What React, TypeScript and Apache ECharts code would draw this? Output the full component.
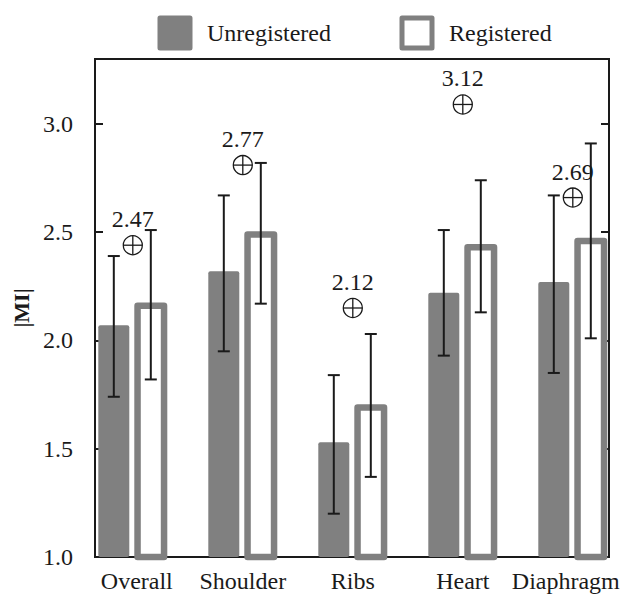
import React, { useEffect, useRef } from "react";
import * as echarts from "echarts";

const categories = ["Overall", "Shoulder", "Ribs", "Heart", "Diaphragm"];
const unregistered = [2.07, 2.32, 1.53, 2.22, 2.27];
const registered = [2.16, 2.49, 1.69, 2.43, 2.46];
const unregLow = [1.74, 1.95, 1.2, 1.93, 1.85];
const unregHigh = [2.39, 2.67, 1.84, 2.51, 2.67];
const regLow = [1.82, 2.17, 1.37, 2.13, 2.01];
const regHigh = [2.51, 2.82, 2.03, 2.74, 2.91];
const markerValues = [2.44, 2.81, 2.15, 3.09, 2.66];
const markerLabels = ["2.47", "2.77", "2.12", "3.12", "2.69"];
const Y_MIN = 1.0;
const Y_MAX = 3.3;
const Y_STEP = 0.5;

const FONT = "Liberation Serif";
const GRAY = "#808080";
const INK = "#1a1a1a";

export default function App() {
  const ref = useRef<HTMLDivElement>(null);
  useEffect(() => {
    if (!ref.current) return;
    const chart = echarts.init(ref.current, undefined, { renderer: "svg" });
    const yCommon = {
      type: "value",
      min: Y_MIN,
      max: Y_MAX,
      interval: Y_STEP,
      splitLine: { show: false },
    };
    const legendText = { fontSize: 24, fontFamily: FONT, color: INK, padding: [0, 0, 0, 12] };
    const labelBase = { fontSize: 24, fontFamily: FONT, color: INK };
    const option: any = {
      animation: false,
      backgroundColor: "#fff",
      textStyle: { fontFamily: FONT },
      legend: [
        {
          data: [
            {
              name: "Unregistered",
              icon: "rect",
              itemStyle: { color: GRAY, borderColor: GRAY, borderWidth: 5, borderJoin: "round" },
            },
          ],
          left: 157.5,
          top: 15.5,
          padding: 0,
          itemWidth: 30,
          itemHeight: 30,
          selectedMode: false,
          textStyle: legendText,
        },
        {
          data: [
            {
              name: "Registered",
              icon: "rect",
              itemStyle: { color: "#fff", borderColor: GRAY, borderWidth: 5, borderJoin: "round" },
            },
          ],
          left: 399.5,
          top: 15.5,
          padding: 0,
          itemWidth: 30,
          itemHeight: 30,
          selectedMode: false,
          textStyle: legendText,
        },
      ],
      grid: [
        { left: 77.8, right: 4.2, top: 59, bottom: 40 },
        {
          left: 95,
          right: 23,
          top: 59,
          bottom: 40,
          show: true,
          borderColor: INK,
          borderWidth: 2,
          backgroundColor: "transparent",
        },
      ],
      xAxis: [
        {
          type: "category",
          gridIndex: 0,
          data: categories,
          boundaryGap: true,
          axisLine: { show: false },
          axisTick: { show: false },
          axisLabel: {
            ...labelBase,
            margin: 12,
            interval: 0,
            hideOverlap: false,
            formatter: (v: string) =>
              v === "Overall" ? `{r|${v}}` : v === "Diaphragm" ? `{l|${v}}` : `{n|${v}}`,
            rich: {
              n: { ...labelBase },
              r: { ...labelBase, padding: [0, 0, 0, 8] },
              l: { ...labelBase, padding: [0, 14, 0, 0] },
            },
          },
        },
        { type: "value", gridIndex: 1, show: false, min: 0, max: 1 },
      ],
      yAxis: [
        { ...yCommon, gridIndex: 0, show: false },
        {
          ...yCommon,
          gridIndex: 1,
          position: "left",
          name: "|MI|",
          nameLocation: "middle",
          nameGap: 56,
          nameRotate: 90,
          nameTextStyle: { fontSize: 22, fontWeight: "bold", fontFamily: FONT, color: INK },
          axisLine: { show: false },
          axisTick: { show: true, inside: true, length: 8, lineStyle: { color: INK, width: 2 } },
          axisLabel: {
            ...labelBase,
            margin: 22,
            showMaxLabel: false,
            formatter: (v: number) => v.toFixed(1),
          },
        },
        {
          ...yCommon,
          gridIndex: 1,
          position: "right",
          axisLine: { show: false },
          axisTick: { show: true, inside: true, length: 8, lineStyle: { color: INK, width: 2 } },
          axisLabel: { show: false },
        },
      ],
      series: [
        {
          name: "Unregistered",
          type: "custom",
          xAxisIndex: 0,
          yAxisIndex: 0,
          z: 2,
          itemStyle: { color: GRAY },
          data: unregistered.map((v, i) => [i, v]),
          renderItem: (params: any, api: any) => {
            const i = api.value(0);
            const top = api.coord([i, api.value(1)]);
            const base = api.coord([i, Y_MIN]);
            return {
              type: "rect",
              shape: { x: top[0] - 34.5, y: top[1], width: 31, height: base[1] - top[1], r: 2 },
              style: { fill: GRAY },
            };
          },
        },
        {
          name: "Registered",
          type: "custom",
          xAxisIndex: 0,
          yAxisIndex: 0,
          z: 2,
          itemStyle: { color: GRAY },
          data: registered.map((v, i) => [i, v]),
          renderItem: (params: any, api: any) => {
            const i = api.value(0);
            const top = api.coord([i, api.value(1)]);
            const base = api.coord([i, Y_MIN]);
            return {
              type: "rect",
              shape: { x: top[0] + 4.75, y: top[1], width: 26.5, height: base[1] - top[1] },
              style: { fill: "#fff", stroke: GRAY, lineWidth: 6.5, lineJoin: "round" },
            };
          },
        },
        {
          name: "errors",
          type: "custom",
          xAxisIndex: 0,
          yAxisIndex: 0,
          z: 3,
          data: categories.map((_, i) => [i, unregLow[i], unregHigh[i], regLow[i], regHigh[i]]),
          renderItem: (params: any, api: any) => {
            const i = api.value(0);
            const pairs = [
              [api.value(1), api.value(2), -19],
              [api.value(3), api.value(4), 18],
            ];
            const children: any[] = [];
            const st = { stroke: INK, lineWidth: 2 };
            for (const [lo, hi, dx] of pairs) {
              const a = api.coord([i, lo]);
              const b = api.coord([i, hi]);
              const x = a[0] + dx;
              children.push({ type: "line", shape: { x1: x, y1: a[1], x2: x, y2: b[1] }, style: st });
              children.push({ type: "line", shape: { x1: x - 6, y1: a[1], x2: x + 6, y2: a[1] }, style: st });
              children.push({ type: "line", shape: { x1: x - 6, y1: b[1], x2: x + 6, y2: b[1] }, style: st });
            }
            return { type: "group", children };
          },
        },
        {
          name: "markers",
          type: "custom",
          xAxisIndex: 0,
          yAxisIndex: 0,
          z: 4,
          data: markerValues.map((v, i) => [i, v]),
          renderItem: (params: any, api: any) => {
            const i = api.value(0);
            const p = api.coord([i, api.value(1)]);
            const r = 9.5;
            const st = { stroke: INK, lineWidth: 1.3, fill: "none" };
            return {
              type: "group",
              children: [
                { type: "circle", shape: { cx: p[0], cy: p[1], r }, style: { ...st, fill: "rgba(0,0,0,0)" } },
                { type: "line", shape: { x1: p[0] - r, y1: p[1], x2: p[0] + r, y2: p[1] }, style: st },
                { type: "line", shape: { x1: p[0], y1: p[1] - r, x2: p[0], y2: p[1] + r }, style: st },
                {
                  type: "text",
                  x: p[0],
                  y: p[1] - 26,
                  style: {
                    text: markerLabels[params.dataIndex],
                    fill: INK,
                    fontSize: 24,
                    fontFamily: FONT,
                    align: "center",
                    verticalAlign: "middle",
                  },
                },
              ],
            };
          },
        },
      ],
    };
    chart.setOption(option);
    return () => chart.dispose();
  }, []);
  return (
    <div
      ref={ref}
      style={{ position: "fixed", left: 0, top: 0, width: 632, height: 597, background: "#fff" }}
    />
  );
}
